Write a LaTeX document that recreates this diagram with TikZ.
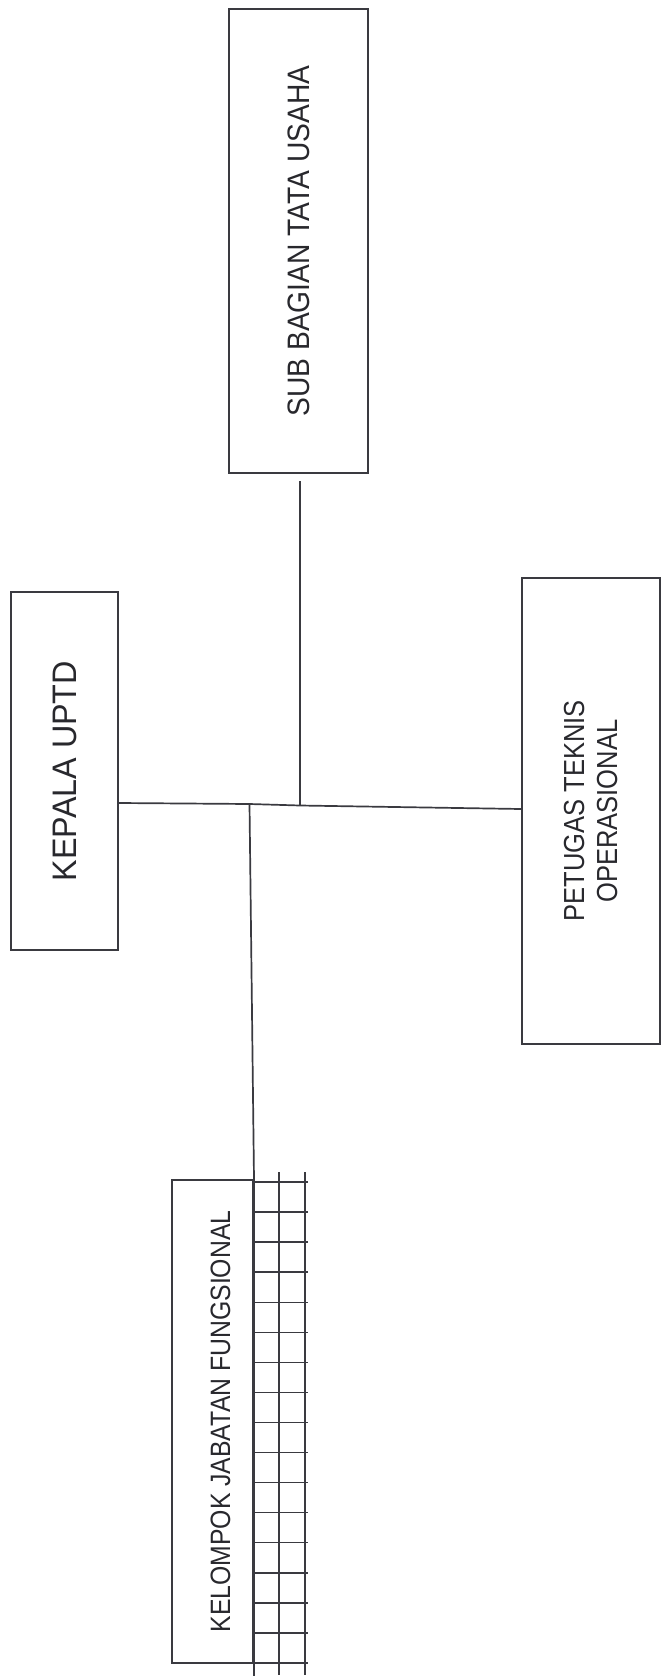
\documentclass[tikz,border=0pt]{standalone}
\usepackage{fontspec}
\setmainfont{Liberation Sans}
\usepackage{graphicx}
\definecolor{ln}{RGB}{58,58,64}
\definecolor{tx}{RGB}{40,40,45}
\newcommand{\vtext}[4]{\rotatebox{90}{\raisebox{#3}[\height][\depth]{\scalebox{#2}[1]{\fontsize{#1}{#1}\selectfont #4}}}}
\begin{document}
\begin{tikzpicture}[x=1pt,y=-1pt,
  box/.style={draw=ln, line width=2pt, rectangle, inner sep=0pt, text=tx},
  conn/.style={draw=ln, line width=1.7pt},
  gridln/.style={draw=ln, line width=1.5pt}]
\useasboundingbox (0,0) rectangle (661,1680);
\fill[white] (0,0) rectangle (661,1680);
\node[box, minimum width=107pt, minimum height=358pt] (kep) at (64.5,771) {\vtext{34}{0.95}{0pt}{KEPALA UPTD}};
\node[box, minimum width=139pt, minimum height=464pt] (sub) at (298.5,241) {\vtext{31}{0.91}{0pt}{SUB BAGIAN TATA USAHA}};
\node[box, minimum width=138pt, minimum height=466pt] (pet) at (591,811) {\rotatebox{90}{\raisebox{-3pt}[\height][\depth]{\fontsize{29}{33}\selectfont\begin{tabular}{@{}c@{}}\scalebox{0.88}[1]{PETUGAS TEKNIS}\\\scalebox{0.88}[1]{OPERASIONAL}\end{tabular}}}};
\node[box, minimum width=81pt, minimum height=483pt] (kel) at (212.5,1421.5) {\vtext{28}{0.885}{-8pt}{KELOMPOK JABATAN FUNGSIONAL}};
% junctions
\coordinate (jA) at (249.5,804);
\coordinate (jB) at (300,805.5);
\coordinate (jR) at (522,809);
\draw[conn] (kep.east |- 0,803) -- (jA) -- (jB) -- (pet.west |- jR);
\draw[conn, shorten <=7pt] (sub.south -| jB) -- (jB);
\draw[conn] (jA) -- (kel.north east);
% grid beside KELOMPOK
\draw[gridln] (kel.north east) ++(0,-8) -- (kel.south east) -- ++(0,12);
\foreach \gx in {279,305}
  \draw[gridln] (\gx,1172) -- (\gx,1675);
\foreach \k in {0,...,16}
  \draw[gridln] (253,1182+\k*30.06) -- (308,1182+\k*30.06);
\end{tikzpicture}
\end{document}
